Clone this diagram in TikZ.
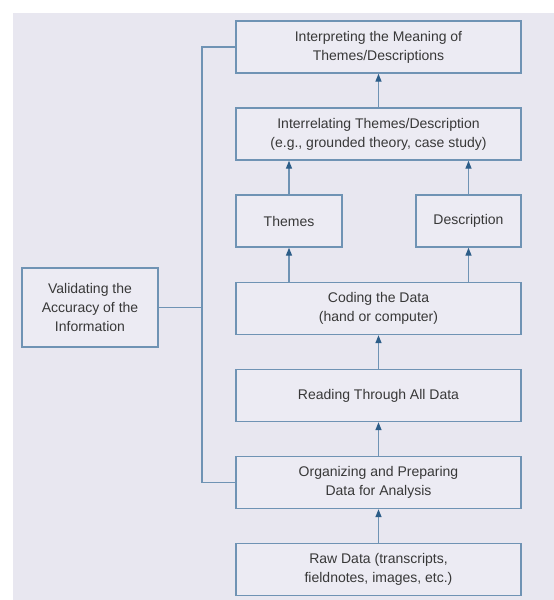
\documentclass[tikz,border=0pt]{standalone}
\usepackage{fontspec}
\setmainfont{Liberation Sans}
\usetikzlibrary{arrows.meta,positioning}

\definecolor{pagebg}{HTML}{E8E7F0}
\definecolor{boxfill}{HTML}{ECEBF3}
\definecolor{boxline}{HTML}{6F93B4}
\definecolor{tipblue}{HTML}{2C5D88}
\definecolor{txt}{HTML}{383838}

\begin{document}
\begin{tikzpicture}[x=1pt,y=1pt]
        \tikzstyle{stepbox}=[draw=boxline, fill=boxfill, line width=1.4pt, align=center,
          text=txt, font=\fontsize{14}{19}\selectfont, minimum height=52pt, inner sep=2pt]
        \tikzstyle{flow}=[draw=boxline, line width=1.4pt, -{Triangle[length=8pt,width=6pt,color=tipblue]}]
        \tikzstyle{loopline}=[draw=boxline, line width=1.4pt]
        \useasboundingbox (0,0) rectangle (554,-600);
        \fill [white] (0,0) rectangle (554,-600);
        \fill [pagebg] (13,-13) rectangle (554,-600);
        % main column
        \node [stepbox, minimum width=285pt] (interp) at (378.5,-47) {Interpreting the Meaning of\\Themes/Descriptions};
        \node [stepbox, minimum width=285pt] (interrel) at (378.5,-134) {Interrelating Themes/Description\\(e.g., grounded theory, case study)};
        \node [stepbox, minimum width=106pt] (themes) at (289,-221) {Themes};
        \node [stepbox, minimum width=105pt] (desc) at (468.5,-221) {Description};
        \node [stepbox, minimum width=285pt] (coding) at (378.5,-308.5) {Coding the Data\\(hand or computer)};
        \node [stepbox, minimum width=285pt] (reading) at (378.5,-395.5) {Reading Through All Data};
        \node [stepbox, minimum width=285pt] (organize) at (378.5,-482.5) {Organizing and Preparing\\Data for Analysis};
        \node [stepbox, minimum width=285pt] (rawdata) at (378.5,-569.5) {Raw Data (transcripts,\\fieldnotes, images, etc.)};
        \node [stepbox, minimum width=136pt, minimum height=79pt] (validate) at (90,-307.5) {Validating the\\Accuracy of the\\Information};
        % arrows up
        \draw [flow] (rawdata) -- (organize);
        \draw [flow] (organize) -- (reading);
        \draw [flow] (reading) -- (coding);
        \draw [flow] (themes.south |- coding.north) -- (themes);
        \draw [flow] (desc.south |- coding.north) -- (desc);
        \draw [flow] (themes) -- (themes.north |- interrel.south);
        \draw [flow] (desc) -- (desc.north |- interrel.south);
        \draw [flow] (interrel) -- (interp);
        % validation bracket
        \coordinate (bend) at (202,-47);
        \draw [loopline] (interp.west) -- (bend) |- (organize.west);
        \draw [loopline] (validate.east) -- (validate.east -| bend);
\end{tikzpicture}
\end{document}
